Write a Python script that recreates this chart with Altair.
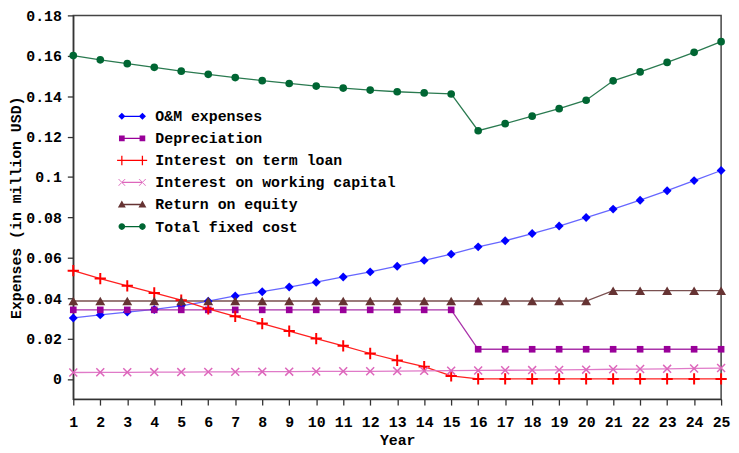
import altair as alt
import pandas as pd

# ---------------- data ----------------
years = list(range(1, 26))

series_names = [
    "O&M expenses",
    "Depreciation",
    "Interest on term loan",
    "Interest on working capital",
    "Return on equity",
    "Total fixed cost",
]

om_expenses = [0.0302, 0.0317, 0.0331, 0.0344, 0.0362, 0.0385, 0.0411, 0.0432,
               0.0455, 0.0479, 0.0505, 0.0530, 0.0558, 0.0587, 0.0618, 0.0654,
               0.0684, 0.0720, 0.0757, 0.0799, 0.0841, 0.0885, 0.0932, 0.0982,
               0.1032]
depreciation = [0.0342, 0.0342, 0.0342, 0.0342, 0.0342, 0.0342, 0.0342, 0.0342,
                0.0342, 0.0342, 0.0342, 0.0342, 0.0342, 0.0342, 0.0342, 0.0147,
                0.0147, 0.0147, 0.0147, 0.0147, 0.0147, 0.0147, 0.0147, 0.0147,
                0.0147]
interest_term_loan = [0.0536, 0.0497, 0.0461, 0.0426, 0.0390, 0.0347, 0.0310,
                      0.0274, 0.0237, 0.0200, 0.0164, 0.0126, 0.0092, 0.0061,
                      0.0015, 0.0, 0.0, 0.0, 0.0, 0.0, 0.0, 0.0, 0.0, 0.0, 0.0]
interest_working_capital = [0.0032, 0.0033, 0.0033, 0.0034, 0.0034, 0.0035,
                            0.0035, 0.0036, 0.0036, 0.0037, 0.0038, 0.0038,
                            0.0039, 0.0040, 0.0041, 0.0042, 0.0043, 0.0044,
                            0.0045, 0.0046, 0.0048, 0.0049, 0.0050, 0.0052,
                            0.0054]
return_on_equity = [0.0386, 0.0386, 0.0386, 0.0386, 0.0386, 0.0386, 0.0386,
                    0.0386, 0.0386, 0.0386, 0.0386, 0.0386, 0.0386, 0.0386,
                    0.0386, 0.0386, 0.0386, 0.0386, 0.0386, 0.0386, 0.0437,
                    0.0437, 0.0437, 0.0437, 0.0437]
total_fixed_cost = [0.1601, 0.1580, 0.1561, 0.1543, 0.1524, 0.1508, 0.1492,
                    0.1477, 0.1463, 0.1450, 0.1440, 0.1430, 0.1422, 0.1416,
                    0.1411, 0.1229, 0.1264, 0.1301, 0.1338, 0.1380, 0.1476,
                    0.1520, 0.1567, 0.1617, 0.1670]

y_ticks = [0, 0.02, 0.04, 0.06, 0.08, 0.1, 0.12, 0.14, 0.16, 0.18]

all_values = [om_expenses, depreciation, interest_term_loan,
              interest_working_capital, return_on_equity, total_fixed_cost]

# ---------------- styles ----------------
marker_colors = ["#0000ff", "#990099", "#ff0000", "#dd66bb", "#663333", "#006633"]
line_colors = ["#6666ff", "#aa33aa", "#ff2020", "#e07ac8", "#7a5050", "#2a7a50"]

PLUS = "M-1,0H1M0,-1V1"
XMARK = "M-1,-1L1,1M-1,1L1,-1"
marker_specs = [
    dict(shape="diamond", filled=True, size=81),
    dict(shape="square", filled=True, size=45),
    dict(shape=PLUS, filled=False, size=130, strokeWidth=2),
    dict(shape=XMARK, filled=False, size=64, strokeWidth=1.5),
    dict(shape="triangle-up", filled=True, size=100),
    dict(shape="circle", filled=True, size=60),
]


def rect(x0, y0, x1, y1):
    return f"M{x0},{y0}H{x1}V{y1}H{x0}Z"


def marker_path(kind, c):
    if kind == "diamond":
        h = 0.45
        return f"M{c},{-h}L{c + h},0L{c},{h}L{c - h},0Z"
    if kind == "square":
        h = 0.36
        return rect(c - h, -h, c + h, h)
    if kind == "plus":
        a, t = 0.6, 0.08
        return rect(c - a, -t, c + a, t) + rect(c - t, -a, c + t, a)
    if kind == "x":
        a, t = 0.42, 0.06
        return (f"M{c - a - t},{-a}L{c - a + t},{-a}L{c + a + t},{a}L{c + a - t},{a}Z"
                f"M{c + a - t},{-a}L{c + a + t},{-a}L{c - a + t},{a}L{c - a - t},{a}Z")
    if kind == "triangle":
        h = 0.5
        return f"M{c},{-h}L{c + h},{h * 0.75}L{c - h},{h * 0.75}Z"
    r = 0.42
    return f"M{c - r},0A{r},{r} 0 1,1 {c + r},0A{r},{r} 0 1,1 {c - r},0Z"


legend_kinds = ["diamond", "square", "plus", "x", "triangle", "circle"]
legend_paths = [
    rect(-1.3, -0.08, 1.3, 0.08) + marker_path(k, -1.3) + marker_path(k, 1.3)
    for k in legend_kinds
]

FONT = "Liberation Mono"

# ---------------- data frame ----------------
rows = []
for name, vals in zip(series_names, all_values):
    for yr, v in zip(years, vals):
        rows.append({"Year": yr, "Series": name, "Value": v})
df = pd.DataFrame(rows)

x_enc = alt.X(
    "Year:Q",
    scale=alt.Scale(domain=[1, 25], nice=False, zero=False),
    axis=alt.Axis(values=years, format="d", title="Year", grid=False,
                  tickSize=6, labelPadding=10, titlePadding=3,
                  labelFlush=False, labelOverlap=False),
)
y_enc = alt.Y(
    "Value:Q",
    scale=alt.Scale(domain=[-0.01, 0.18], nice=False, zero=False),
    axis=alt.Axis(values=y_ticks, format="~g",
                  title="Expenses (in million USD)", grid=False,
                  tickSize=6, labelPadding=6, titlePadding=2,
                  labelFlush=False, labelOverlap=False),
)

base = alt.Chart(df).encode(x=x_enc, y=y_enc)

layers = []
for name, lc in zip(series_names, line_colors):
    layers.append(
        base.transform_filter(alt.datum.Series == name)
        .mark_line(color=lc, strokeWidth=1.3)
    )
for name, mc, spec in zip(series_names, marker_colors, marker_specs):
    layers.append(
        base.transform_filter(alt.datum.Series == name)
        .mark_point(color=mc, opacity=1, **spec)
    )

legend = alt.Legend(
    title=None, orient="none", legendX=51.5, legendY=94,
    labelFont=FONT, labelFontSize=15, labelFontWeight="bold",
    labelColor="#000000", labelOffset=15.5, labelLimit=500,
    symbolSize=256, symbolStrokeWidth=0, rowPadding=6.3, padding=0,
)
legend_layer = (
    base.transform_filter("datum.Year > 1000")
    .mark_point(filled=True, opacity=1)
    .encode(
        color=alt.Color("Series:N", sort=series_names,
                        scale=alt.Scale(domain=series_names, range=marker_colors),
                        legend=legend),
        shape=alt.Shape("Series:N", sort=series_names,
                        scale=alt.Scale(domain=series_names, range=legend_paths),
                        legend=legend),
    )
)
layers.append(legend_layer)

chart = (
    alt.layer(*layers)
    .properties(
        width=655, height=388,
        padding={"left": 66, "top": 5, "right": 10, "bottom": 54},
        autosize=alt.AutoSizeParams(type="none"),
        background="white",
    )
    .configure_view(stroke="#444444", strokeWidth=1.5)
    .configure_axis(
        labelFont=FONT, labelFontSize=15, labelFontWeight="bold",
        labelColor="#000000", titleFont=FONT, titleFontSize=15,
        titleFontWeight="bold", titleColor="#000000",
        domainColor="#333333", tickColor="#333333", domainWidth=1.3,
        tickWidth=1.3,
    )
)

chart.save("out.html", embed_options={"renderer": "svg", "actions": False})
